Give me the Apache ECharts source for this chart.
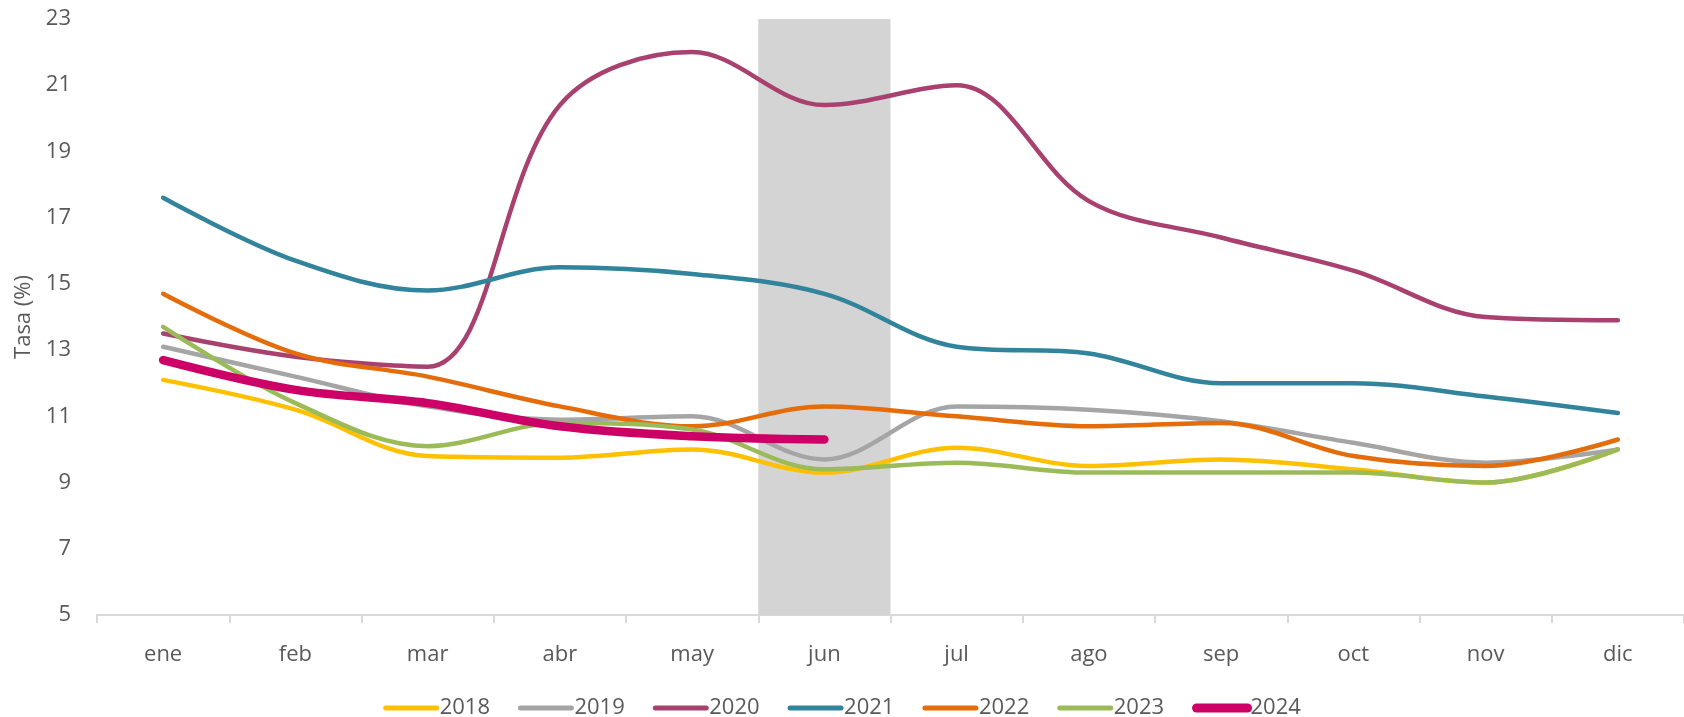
<!DOCTYPE html>
<html>
<head>
<meta charset="utf-8">
<script src="https://cdn.jsdelivr.net/npm/echarts@6/dist/echarts.min.js"></script>
<style>
html,body{margin:0;padding:0;background:#fff;}
#chart{width:1684px;height:717px;}
</style>
</head>
<body>
<div id="chart"></div>
<script>
const months = ['ene','feb','mar','abr','may','jun','jul','ago','sep','oct','nov','dic'];
const yTicks = [5, 7, 9, 11, 13, 15, 17, 19, 21, 23];
const highlightMonth = 'jun';
const years = ['2018','2019','2020','2021','2022','2023','2024'];
const v2018 = [12.1, 11.2, 9.8, 9.75, 10.0, 9.3, 10.05, 9.5, 9.7, 9.4, 9.0, 10.0];
const v2019 = [13.1, 12.2, 11.3, 10.9, 11.0, 9.7, 11.3, 11.2, 10.85, 10.2, 9.6, 10.0];
const v2020 = [13.5, 12.8, 12.5, 20.4, 22.0, 20.4, 21.0, 17.5, 16.4, 15.4, 14.0, 13.9];
const v2021 = [17.6, 15.7, 14.8, 15.5, 15.3, 14.7, 13.1, 12.9, 12.0, 12.0, 11.6, 11.1];
const v2022 = [14.7, 12.9, 12.2, 11.3, 10.7, 11.3, 11.0, 10.7, 10.8, 9.8, 9.5, 10.3];
const v2023 = [13.7, 11.4, 10.1, 10.8, 10.6, 9.4, 9.6, 9.3, 9.3, 9.3, 9.0, 10.0];
const v2024 = [12.7, 11.8, 11.4, 10.7, 10.4, 10.3];
const colors = ['#FFC000','#A5A5A5','#A8416F','#31849B','#E46C0A','#9BBB59','#CC0066'];

const FONT = '"Open Sans", "Noto Sans", sans-serif';
const allValues = [v2018, v2019, v2020, v2021, v2022, v2023, v2024];

const bandData = months.map(m => m === highlightMonth ? yTicks[yTicks.length-1] : null);

const lineSeries = years.map((y, i) => {
  const isLast = i === years.length - 1;
  const vals = allValues[i];
  return {
    name: y,
    type: 'line',
    smooth: 0.35,
    symbol: 'none',
    z: 3 + i,
    lineStyle: { color: colors[i], width: isLast ? 8.5 : 4.5, cap: 'round', join: 'round' },
    itemStyle: { color: colors[i] },
    data: isLast ? vals.map((v, k) => k === vals.length - 1 ? {
      value: v,
      label: {
        show: true, position: 'bottom', distance: 42,
        formatter: p => String(p.value).replace('.', ',') + '*',
        color: '#CC0066', fontWeight: 'bold', fontSize: 22, fontFamily: FONT
      }
    } : v) : vals
  };
});

const chart = echarts.init(document.getElementById('chart'), null, { renderer: 'canvas' });
chart.setOption({
  animation: false,
  backgroundColor: '#ffffff',
  grid: { left: 97, right: -2, top: 19, bottom: 102, containLabel: false },
  legend: {
    data: years.map((y, i) => i === years.length - 1 ? { name: y, lineStyle: { width: 9, cap: 'round' } } : { name: y }),
    top: 692,
    left: 'center',
    itemWidth: 51,
    itemHeight: 10,
    itemGap: 28,
    itemStyle: { opacity: 0 },
    lineStyle: { width: 5, cap: 'round' },
    textStyle: { color: '#595959', fontSize: 22, fontFamily: FONT, padding: [0, 0, 0, -2] }
  },
  xAxis: {
    type: 'category',
    data: months,
    boundaryGap: true,
    axisLine: { lineStyle: { color: '#D9D9D9', width: 2 } },
    axisTick: { show: true, length: 8, lineStyle: { color: '#D9D9D9', width: 2 } },
    axisLabel: { color: '#595959', fontSize: 22, fontFamily: FONT, margin: 29 },
    splitLine: { show: false }
  },
  yAxis: {
    type: 'value',
    min: yTicks[0],
    max: yTicks[yTicks.length-1],
    interval: 2,
    name: 'Tasa (%)',
    nameLocation: 'middle',
    nameGap: 62,
    nameTextStyle: { color: '#595959', fontSize: 22, fontFamily: FONT },
    axisLine: { show: false },
    axisTick: { show: false },
    splitLine: { show: false },
    axisLabel: { color: '#595959', fontSize: 22, fontFamily: FONT, margin: 26 }
  },
  series: [{
    name: 'band',
    type: 'bar',
    data: bandData,
    barWidth: '100%',
    silent: true,
    z: 1,
    itemStyle: { color: '#D4D4D4' }
  }].concat(lineSeries)
});
</script>
</body>
</html>
